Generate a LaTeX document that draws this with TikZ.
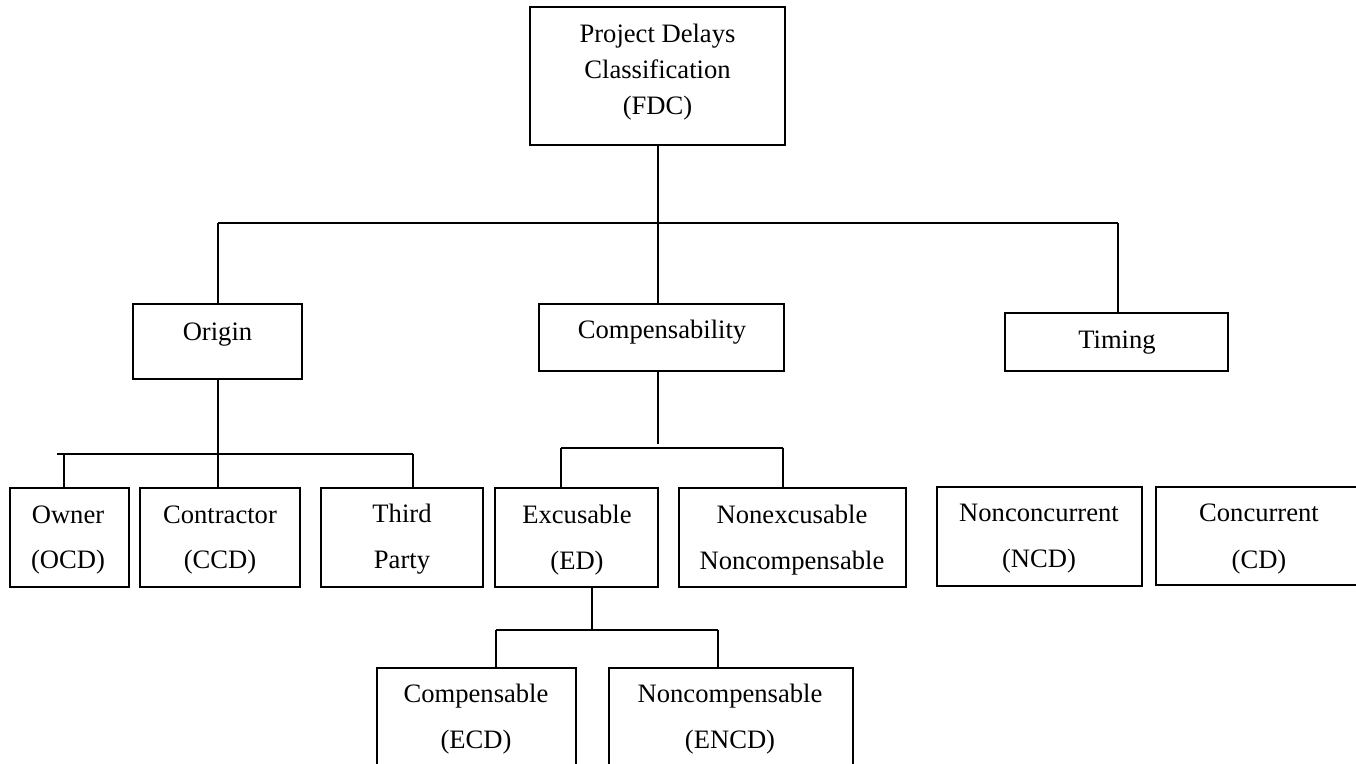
\documentclass[tikz,border=0pt]{standalone}
\usepackage{fontspec}
\setmainfont{Liberation Serif}
\tikzset{
  box/.style={draw, line width=1pt, inner sep=0pt, fill=white},
  txt/.style={anchor=base, inner sep=0pt, font=\fontsize{13.3}{16}\selectfont},
  conn/.style={line width=1pt}
}
\begin{document}
\begin{tikzpicture}[x=0.5pt,y=-0.5pt]
\fill[white] (0,0) rectangle (1356,764);
\useasboundingbox (0,0) rectangle (1356,764);
\clip (0,0) rectangle (1356,764);
% boxes
\node[box, minimum width=127.5pt, minimum height=69pt] (fdc) at (657.5,76) {};
\node[box, minimum width=84.5pt, minimum height=37.5pt] (origin) at (217.5,341.5) {};
\node[box, minimum width=122.5pt, minimum height=33.5pt] (comp) at (661.5,337.5) {};
\node[box, minimum width=111.5pt, minimum height=29pt] (timing) at (1116.5,342) {};
\node[box, minimum width=59.5pt, minimum height=49.5pt] (owner) at (69.5,537.5) {};
\node[box, minimum width=80pt, minimum height=49.5pt] (contr) at (220,537.5) {};
\node[box, minimum width=81pt, minimum height=49.5pt] (third) at (402,537.5) {};
\node[box, minimum width=81.5pt, minimum height=49.5pt] (excus) at (576.5,537.5) {};
\node[box, minimum width=113.5pt, minimum height=49.5pt] (nonex) at (792.5,537.5) {};
\node[box, minimum width=102.5pt, minimum height=49.5pt] (noncon) at (1039.5,536.5) {};
\node[box, minimum width=102pt, minimum height=49pt] (conc) at (1258,536) {};
\node[box, minimum width=99.5pt, minimum height=61pt] (ecomp) at (476.5,729) {};
\node[box, minimum width=122pt, minimum height=61pt] (encomp) at (731,729) {};
% texts
\node[txt] (fdc1) at (657.5,43) {Project Delays};
\node[txt] (fdc2) at (657.5,79) {Classification};
\node[txt] (fdc3) at (657.5,115) {(FDC)};
\node[txt] (origint) at (217.5,341) {Origin};
\node[txt] (compt) at (662,339) {Compensability};
\node[txt] (timingt) at (1117,349) {Timing};
\node[txt] (owner1) at (68,524) {Owner};
\node[txt] (owner2) at (68,569) {(OCD)};
\node[txt] (contr1) at (220,524) {Contractor};
\node[txt] (contr2) at (220,569) {(CCD)};
\node[txt] (third1) at (402,523) {Third};
\node[txt] (third2) at (402,569) {Party};
\node[txt] (excus1) at (577,524) {Excusable};
\node[txt] (excus2) at (577,570) {(ED)};
\node[txt] (nonex1) at (792,524) {Nonexcusable};
\node[txt] (nonex2) at (792,570) {Noncompensable};
\node[txt] (noncon1) at (1039,522) {Nonconcurrent};
\node[txt] (noncon2) at (1039,568) {(NCD)};
\node[txt] (conc1) at (1259,522) {Concurrent};
\node[txt] (conc2) at (1259,569) {(CD)};
\node[txt] (ecomp1) at (476,703) {Compensable};
\node[txt] (ecomp2) at (476,748) {(ECD)};
\node[txt] (encomp1) at (730,703) {Noncompensable};
\node[txt] (encomp2) at (730,748) {(ENCD)};
% connectors level 1
\coordinate (jL) at (218,223);
\coordinate (jR) at (1118,223);
\draw[conn] (fdc.south) -- (fdc.south |- comp.north);
\draw[conn] (jL) -- (jR);
\draw[conn] (jL) -- (jL |- origin.north);
\draw[conn] (jR) -- (jR |- timing.north);
% origin
\coordinate (o1) at (57,454);
\coordinate (oa) at (64,454);
\coordinate (o2) at (413,454);
\draw[conn] (o1) -- (o2);
\draw[conn] (origin.south) -- (origin.south |- contr.north);
\draw[conn] (oa) -- (oa |- owner.north);
\draw[conn] (o2) -- (o2 |- third.north);
% compensability
\coordinate (c0) at (658,444);
\coordinate (cL) at (561,448);
\coordinate (cR) at (783,448);
\draw[conn] (comp.south -| c0) -- (c0);
\draw[conn] (cL) -- (cR);
\draw[conn] (cL) -- (cL |- excus.north);
\draw[conn] (cR) -- (cR |- nonex.north);
% excusable
\coordinate (e0) at (592,630);
\coordinate (eL) at (496,630);
\coordinate (eR) at (718,630);
\draw[conn] (excus.south -| e0) -- (e0);
\draw[conn] (eL) -- (eR);
\draw[conn] (eL) -- (eL |- ecomp.north);
\draw[conn] (eR) -- (eR |- encomp.north);
\end{tikzpicture}
\end{document}
